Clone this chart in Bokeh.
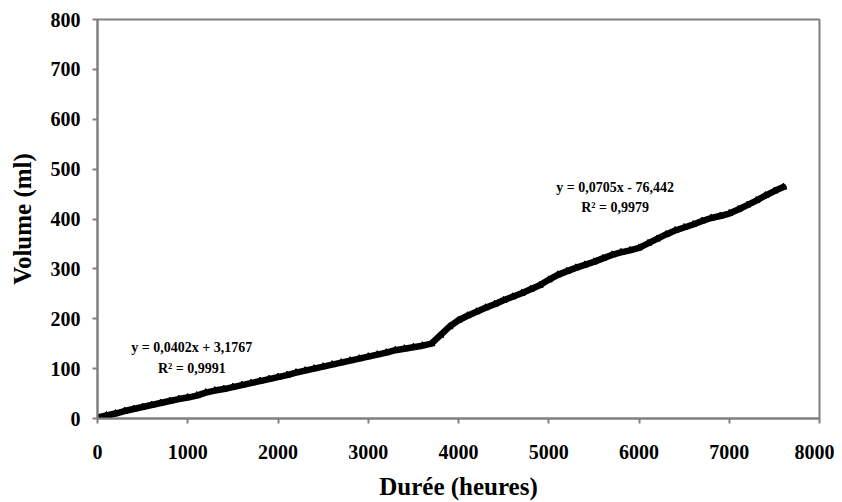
from bokeh.plotting import figure
from bokeh.models import ColumnDataSource, FixedTicker, Range1d
from bokeh.core.properties import value
from bokeh.embed import file_html
from bokeh.resources import INLINE

# Data
duree_heures = [0, 100, 200, 300, 400, 500, 600, 700, 800, 900,
                1000, 1100, 1200, 1300, 1400, 1500, 1600, 1700, 1800, 1900,
                2000, 2100, 2200, 2300, 2400, 2500, 2600, 2700, 2800, 2900,
                3000, 3100, 3200, 3300, 3400, 3500, 3600, 3700, 3800, 3900,
                4000, 4100, 4200, 4300, 4400, 4500, 4600, 4700, 4800, 4900,
                5000, 5100, 5200, 5300, 5400, 5500, 5600, 5700, 5800, 5900,
                6000, 6100, 6200, 6300, 6400, 6500, 6600, 6700, 6800, 6900,
                7000, 7100, 7200, 7300, 7400, 7500, 7600]
volume_ml = [2, 6, 10, 15, 19, 23, 27, 31, 35, 39,
             42, 46, 52, 56, 59, 63, 67, 71, 75, 79,
             83, 87, 92, 96, 100, 104, 108, 112, 116, 120,
             124, 128, 132, 137, 140, 143, 146, 150, 167, 184,
             197, 206, 214, 222, 229, 237, 244, 251, 259, 267,
             278, 288, 295, 302, 308, 314, 321, 328, 333, 337,
             342, 351, 360, 369, 377, 383, 389, 396, 402, 406,
             411, 419, 428, 437, 447, 456, 464]

x_ticks = [0, 1000, 2000, 3000, 4000, 5000, 6000, 7000, 8000]
y_ticks = [0, 100, 200, 300, 400, 500, 600, 700, 800]

eq1_text = ["y = 0,0402x + 3,1767", "R² = 0,9991"]
eq2_text = ["y = 0,0705x - 76,442", "R² = 0,9979"]

FONT = "Liberation Serif"
GREY = "#808080"

p = figure(width=834, height=494, output_backend="svg", toolbar_location=None,
           x_range=Range1d(0, 8000), y_range=Range1d(0, 800),
           min_border_left=97, min_border_right=15, min_border_top=19, min_border_bottom=76)
p.frame_width = 722
p.frame_height = 399
p.background_fill_color = "white"
p.border_fill_color = "white"
p.outline_line_color = GREY
p.outline_line_width = 2
p.xgrid.visible = False
p.ygrid.visible = False

src = ColumnDataSource(dict(x=duree_heures, y=volume_ml))
p.line("x", "y", source=src, line_color="black", line_width=6.5, line_join="round", line_cap="round")
p.scatter("x", "y", source=src, marker="triangle", size=7, color="black")

for ax in (p.xaxis[0], p.yaxis[0]):
    ax.axis_line_color = GREY
    ax.axis_line_width = 2
    ax.major_tick_line_color = GREY
    ax.major_tick_line_width = 2
    ax.major_tick_in = 0
    ax.major_tick_out = 5
    ax.minor_tick_line_color = None
    ax.major_label_text_font = FONT
    ax.major_label_text_font_style = "bold"
    ax.major_label_text_font_size = "20px"
    ax.major_label_text_color = "black"
    ax.axis_label_text_font = FONT
    ax.axis_label_text_font_style = "bold"
    ax.axis_label_text_font_size = "25px"
    ax.axis_label_text_color = "black"

p.xaxis[0].ticker = FixedTicker(ticks=x_ticks)
p.yaxis[0].ticker = FixedTicker(ticks=y_ticks)
p.xaxis[0].axis_label = "Durée (heures)"
p.yaxis[0].axis_label = "Volume (ml)"
p.xaxis[0].major_label_standoff = 21
p.yaxis[0].major_label_standoff = 12
p.xaxis[0].axis_label_standoff = 11
p.yaxis[0].axis_label_standoff = 12

p.text(x=[1045, 1045], y=[142, 100], text=eq1_text,
       text_font=value(FONT), text_font_style="bold", text_font_size="14px",
       text_align="center", text_baseline="middle", text_color="black")
p.text(x=[5735, 5735], y=[463, 423], text=eq2_text,
       text_font=value(FONT), text_font_style="bold", text_font_size="14px",
       text_align="center", text_baseline="middle", text_color="black")

open("out.html", "w").write(file_html(p, INLINE))
